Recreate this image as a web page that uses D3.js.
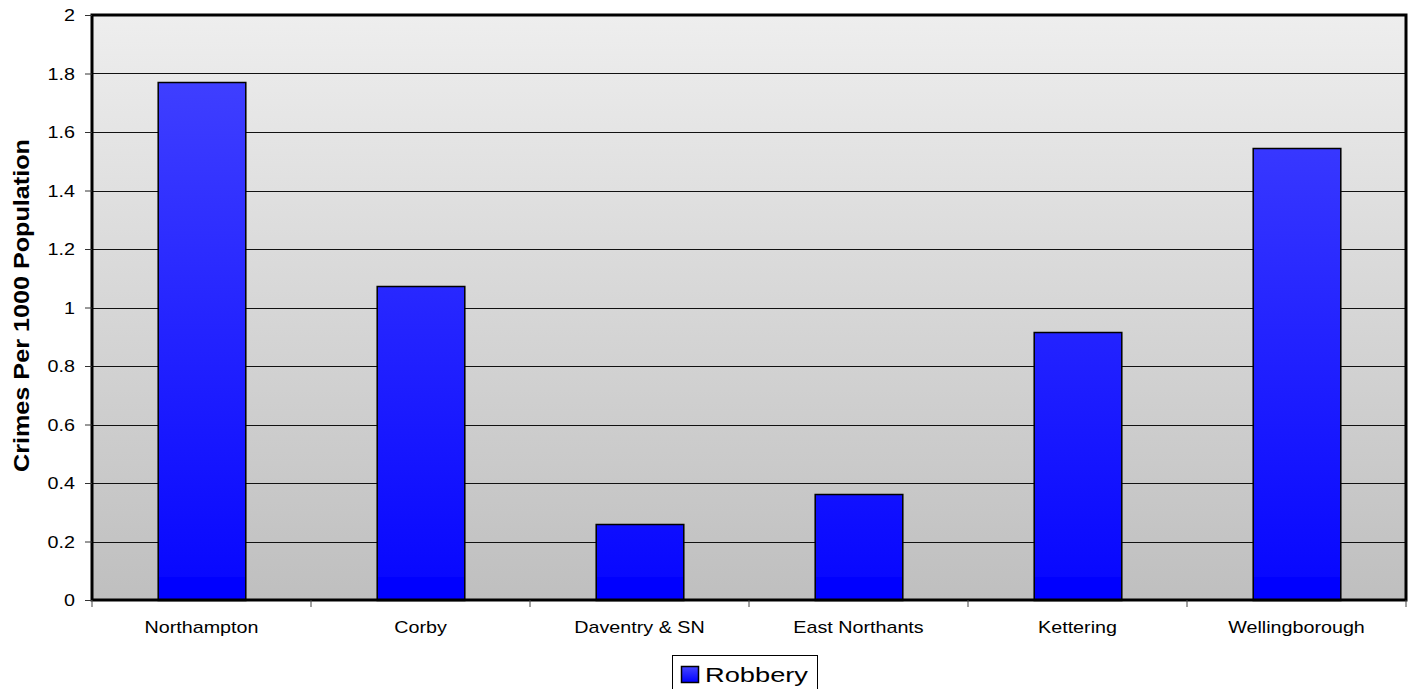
<!DOCTYPE html>
<html><head><meta charset="utf-8">
<script src="https://cdn.jsdelivr.net/npm/d3@7"></script>
<style>body{margin:0;background:#fff}svg{display:block}text{font-family:"Liberation Sans",Arial,sans-serif}</style>
</head><body><svg id="c" width="1418" height="689"></svg>
<script>
const categories = ["Northampton","Corby","Daventry & SN","East Northants","Kettering","Wellingborough"];
const robbery = [1.771, 1.073, 0.26, 0.362, 0.916, 1.545];
const yTicks = [0,0.2,0.4,0.6,0.8,1,1.2,1.4,1.6,1.8,2];
const seriesName = "Robbery";
const yTitle = "Crimes Per 1000 Population";

const STRETCH = 1.16;
function stretch(sel){
  sel.each(function(){
    const w = this.getComputedTextLength();
    d3.select(this).attr("textLength", w*STRETCH).attr("lengthAdjust","spacingAndGlyphs");
  });
}

const svg = d3.select("#c");
const L=92, R=1406, T=15, B=600;
const x = d3.scaleBand().domain(categories).range([L,R]).paddingInner(0.6).paddingOuter(0.3);
const xb = d3.scaleBand().domain(categories).range([L,R]);
const y = d3.scaleLinear().domain([0,2]).range([B,T]);

const defs = svg.append("defs");
const bg = defs.append("linearGradient").attr("id","bg").attr("x1",0).attr("x2",0).attr("y1",0).attr("y2",1);
bg.append("stop").attr("offset","0%").attr("stop-color","#eeeeee");
bg.append("stop").attr("offset","100%").attr("stop-color","#bfbfbf");
const bar = defs.append("linearGradient").attr("id","bar").attr("gradientUnits","userSpaceOnUse")
  .attr("x1",0).attr("x2",0).attr("y1",T).attr("y2",B);
bar.append("stop").attr("offset","0%").attr("stop-color","#4646ff");
bar.append("stop").attr("offset","96%").attr("stop-color","#0808ff");
bar.append("stop").attr("offset","96%").attr("stop-color","#0000ff");
bar.append("stop").attr("offset","100%").attr("stop-color","#0000ff");
const lgg = defs.append("linearGradient").attr("id","lgg").attr("x1",0).attr("x2",0).attr("y1",0).attr("y2",1);
lgg.append("stop").attr("offset","0%").attr("stop-color","#4646ff");
lgg.append("stop").attr("offset","100%").attr("stop-color","#0000ff");

svg.append("rect").attr("x",L).attr("y",T).attr("width",R-L).attr("height",B-T).attr("fill","url(#bg)");

// gridlines
svg.append("g").selectAll("line").data(yTicks.slice(1)).join("line")
  .attr("x1",L).attr("x2",R).attr("y1",d=>Math.round(y(d))+0.5).attr("y2",d=>Math.round(y(d))+0.5)
  .attr("stroke","#111").attr("stroke-width",1);

// bars
svg.append("g").selectAll("rect").data(robbery).join("rect")
  .attr("x",(d,i)=>x(categories[i])+0.5).attr("width",x.bandwidth())
  .attr("y",d=>Math.round(y(d))+0.5).attr("height",d=>B-Math.round(y(d)))
  .attr("fill","url(#bar)").attr("stroke","#000").attr("stroke-width",1.5);

// border
svg.append("rect").attr("x",L).attr("y",T).attr("width",R-L).attr("height",B-T)
  .attr("fill","none").attr("stroke","#000").attr("stroke-width",3);

// y axis
const ya = svg.append("g").attr("transform",`translate(${L},0)`)
  .call(d3.axisLeft(y).tickValues(yTicks).tickFormat(d3.format("~g")).tickSize(7).tickPadding(10));
ya.select(".domain").remove();
ya.attr("font-size",null).attr("font-family",null);
ya.selectAll("text").attr("font-size",17).attr("fill","#000").attr("dy","0.35em").call(stretch);
ya.selectAll("line").attr("stroke","#333");

// x axis ticks at boundaries
const bounds = categories.map(c=>xb(c)).concat([R]);
svg.append("g").selectAll("line").data(bounds).join("line")
  .attr("x1",d=>d).attr("x2",d=>d).attr("y1",B).attr("y2",B+7).attr("stroke","#444");
svg.append("g").selectAll("text").data(categories).join("text")
  .attr("x",d=>xb(d)+xb.bandwidth()/2).attr("y",633).attr("text-anchor","middle")
  .attr("font-size",17).attr("fill","#000").text(d=>d).call(stretch);

// y title
svg.append("text").attr("transform",`translate(29,${305.5}) rotate(-90)`)
  .attr("text-anchor","middle").attr("font-size",22).attr("font-weight","bold")
  .attr("textLength",333).attr("lengthAdjust","spacingAndGlyphs").text(yTitle);

// legend
const lg = svg.append("g");
lg.append("rect").attr("x",672.5).attr("y",655.5).attr("width",145).attr("height",40).attr("fill","#fff").attr("stroke","#000");
lg.append("rect").attr("x",681.5).attr("y",666.5).attr("width",17).attr("height",16).attr("fill","url(#lgg)").attr("stroke","#000").attr("stroke-width",1.5);
lg.append("text").attr("x",705).attr("y",682).attr("font-size",20)
  .attr("textLength",103).attr("lengthAdjust","spacingAndGlyphs").text(seriesName);
</script></body></html>
